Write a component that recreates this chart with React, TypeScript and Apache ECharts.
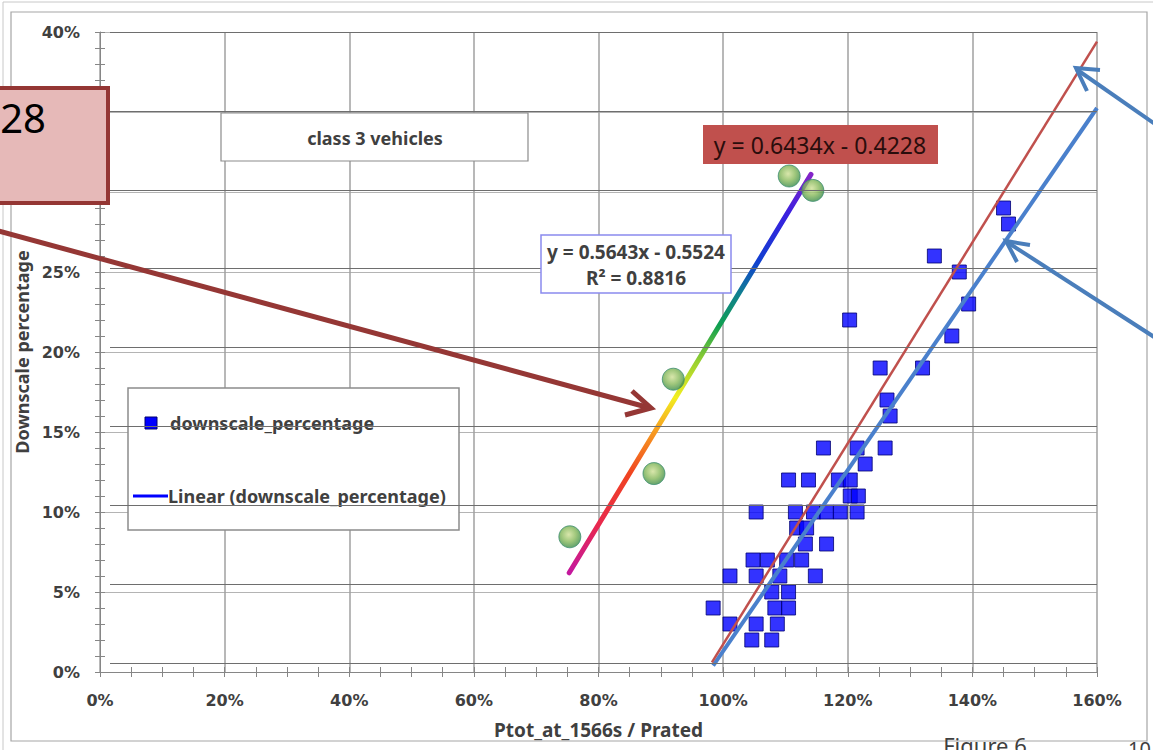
import React, { useEffect, useRef } from "react";
import * as echarts from "echarts";

// ---- data (percent units) ----
const downscalePoints: [number, number][] = [
  [98.4, 4], [101.1, 6], [101.1, 3], [104.6, 2], [105.3, 3], [105.3, 6], [104.8, 7],
  [107.1, 7], [105.3, 10], [107.8, 2], [108.7, 3], [108.3, 4], [110.5, 4], [107.8, 5],
  [110.5, 5], [109.1, 6], [110.2, 7], [112.6, 7], [114.8, 6], [113.2, 8], [111.8, 9],
  [113.4, 9], [111.6, 10], [114.5, 10], [116.6, 8], [116.6, 10], [118.8, 10], [121.5, 10],
  [110.5, 12], [113.7, 12], [118.5, 12], [120.4, 12], [120.4, 11], [121.7, 11], [122.8, 13],
  [116.1, 14], [121.5, 14], [126.0, 14], [126.8, 16], [126.3, 17], [125.2, 19], [132.0, 19],
  [120.3, 22], [133.9, 26], [137.9, 25], [139.4, 23], [136.7, 21], [145.0, 29], [145.8, 28],
];
const highlightPoints: [number, number][] = [
  [75.4, 8.45], [88.9, 12.4], [92.0, 18.3], [110.6, 31.0], [114.4, 30.1],
];
const linearTrend: [number, number][] = [[98.4, 0.4], [160, 35.25]];
const redTrend: [number, number][] = [[98.2, 0.6], [160, 39.4]];
const rainbowTrend: [number, number][] = [[75.3, 6.2], [114.1, 31.1]];

const xMin = 0, xMax = 160, xStep = 20;
const yMin = 0, yMax = 40, yStep = 5;

const seriesName = "downscale_percentage";
const trendName = "Linear (downscale_percentage)";
const xTitle = "Ptot_at_1566s / Prated";
const yTitle = "Downscale percentage";
const boxTitle = "class 3 vehicles";
const redEquation = "y = 0.6434x - 0.4228";
const rainbowEquation = ["y = 0.5643x - 0.5524", "R² = 0.8816"];

const FONT = "Noto Sans";
const TICK_FONT = "DejaVu Sans";
const LABEL = "#404040";

export default function App() {
  const ref = useRef<HTMLDivElement>(null);
  useEffect(() => {
    if (!ref.current) return;
    const chart = echarts.init(ref.current, undefined, { renderer: "svg" });
    const pctFmt = (v: number) => `${v}%`;
    const tickAxisCommon = {
      min: 0,
      splitLine: { show: false },
      axisLabel: { show: false },
      axisLine: { show: false },
    };
    const option: any = {
      animation: false,
      backgroundColor: "#ffffff",
      textStyle: { fontFamily: FONT },
      grid: [
        { left: 100, top: 32, width: 997, height: 640 },
        { left: 110, top: 32, width: 987, height: 631.3 },
      ],
      xAxis: [
        {
          type: "value", gridIndex: 0, min: xMin, max: xMax, interval: xStep,
          name: xTitle, nameLocation: "middle", nameGap: 48,
          nameTextStyle: { fontWeight: "bold", fontSize: 19, color: LABEL, fontFamily: FONT },
          axisLine: { lineStyle: { color: "#868686", width: 1 } },
          axisTick: { show: true, inside: false, length: 5, lineStyle: { color: "#868686" } },
          minorTick: { show: true, splitNumber: 4, length: 5, lineStyle: { color: "#868686" } },
          axisLabel: { formatter: pctFmt, fontWeight: "bold", fontSize: 16, color: LABEL, margin: 20, fontFamily: TICK_FONT },
          splitLine: { show: true, lineStyle: { color: "#a0a0a0", width: 1.5 } },
        },
        {
          type: "value", gridIndex: 0, position: "bottom", max: xMax, interval: xStep, ...tickAxisCommon,
          axisTick: { show: true, inside: true, length: 5, lineStyle: { color: "#868686" } },
          minorTick: { show: true, splitNumber: 4, length: 5, lineStyle: { color: "#868686" } },
        },
        { type: "value", gridIndex: 1, min: xMin, max: xMax, show: false },
      ],
      yAxis: [
        {
          type: "value", gridIndex: 0, min: yMin, max: yMax, interval: yStep,
          name: yTitle, nameLocation: "middle", nameGap: 66, nameRotate: 90,
          nameTextStyle: { fontWeight: "bold", fontSize: 18, color: LABEL, fontFamily: FONT },
          axisLine: { show: true, lineStyle: { color: "#868686", width: 1 } },
          axisTick: { show: true, inside: false, length: 5, lineStyle: { color: "#868686" } },
          minorTick: { show: true, splitNumber: 5, length: 5, lineStyle: { color: "#868686" } },
          axisLabel: { formatter: pctFmt, fontWeight: "bold", fontSize: 16, color: LABEL, margin: 20, fontFamily: TICK_FONT },
          splitLine: { show: true, lineStyle: { color: "#b4b4b4", width: 1.2 } },
        },
        {
          type: "value", gridIndex: 0, position: "left", max: yMax, interval: yStep, ...tickAxisCommon,
          axisTick: { show: true, inside: true, length: 5, lineStyle: { color: "#868686" } },
          minorTick: { show: true, splitNumber: 5, length: 5, lineStyle: { color: "#868686" } },
        },
        {
          type: "value", gridIndex: 1, min: yMin, max: yMax, interval: yStep, z: 20,
          axisLine: { show: false }, axisTick: { show: false }, axisLabel: { show: false },
          splitLine: { show: true, lineStyle: { color: "#6e6e6e", width: 1 } },
        },
      ],
      series: [
        {
          name: seriesName, type: "scatter", xAxisIndex: 0, yAxisIndex: 0,
          data: downscalePoints, symbol: "rect", symbolSize: 14, z: 3,
          itemStyle: { color: "#0000ff", borderColor: "#000070", borderWidth: 1 },
        },
        {
          name: trendName, type: "line", xAxisIndex: 0, yAxisIndex: 0, data: linearTrend,
          showSymbol: false, symbol: "none", z: 4,
          lineStyle: { color: "#4a80cc", width: 4 },
        },
        {
          name: "red", type: "line", xAxisIndex: 0, yAxisIndex: 0, data: redTrend,
          showSymbol: false, symbol: "none", z: 4,
          lineStyle: { color: "#c0504d", width: 2.5 },
        },
        {
          name: "rainbow", type: "line", xAxisIndex: 0, yAxisIndex: 0, data: rainbowTrend,
          showSymbol: false, symbol: "none", z: 4,
          lineStyle: {
            width: 5, cap: "round",
            color: new echarts.graphic.LinearGradient(0, 1, 0, 0, [
              { offset: 0, color: "#c4189e" },
              { offset: 0.12, color: "#e8284e" },
              { offset: 0.25, color: "#f04420" },
              { offset: 0.36, color: "#f7a020" },
              { offset: 0.44, color: "#f2ee20" },
              { offset: 0.53, color: "#98d030" },
              { offset: 0.62, color: "#10a050" },
              { offset: 0.7, color: "#108090" },
              { offset: 0.78, color: "#1040d0" },
              { offset: 0.9, color: "#3a20e0" },
              { offset: 1, color: "#8424c8" },
            ]),
          },
        },
        {
          name: "highlight", type: "scatter", xAxisIndex: 0, yAxisIndex: 0,
          data: highlightPoints, symbol: "circle", symbolSize: 22, z: 6,
          itemStyle: {
            color: new echarts.graphic.RadialGradient(0.45, 0.4, 0.6, [
              { offset: 0, color: "#cfe096" },
              { offset: 0.55, color: "#86b85a" },
              { offset: 1, color: "#3d8c48" },
            ]),
            borderColor: "#3f8f70", borderWidth: 1,
          },
        },
      ],
      graphic: [
        // frames
        { type: "rect", z: 1, silent: true, shape: { x: 3, y: 2, width: 1170, height: 770 }, style: { fill: "none", stroke: "#c8c8c8", lineWidth: 1 } },
        { type: "rect", z: 1, silent: true, shape: { x: 11, y: 12, width: 1136, height: 729 }, style: { fill: "none", stroke: "#a6a6a6", lineWidth: 1.2 } },
        // class box
        { type: "rect", z: 30, shape: { x: 221, y: 113, width: 307, height: 48 }, style: { fill: "#ffffff", stroke: "#8c8c8c", lineWidth: 1.2 } },
        { type: "text", z: 31, x: 375, y: 138, style: { text: boxTitle, fill: LABEL, font: `bold 18px "${FONT}"`, textAlign: "center", textVerticalAlign: "middle" } },
        // red equation box
        { type: "rect", z: 30, shape: { x: 703, y: 125, width: 235, height: 39 }, style: { fill: "#c0504d" } },
        { type: "text", z: 31, x: 820, y: 145, style: { text: redEquation, fill: "#2a0d0c", font: `23px "${FONT}"`, textAlign: "center", textVerticalAlign: "middle" } },
        // rainbow equation box
        { type: "rect", z: 30, shape: { x: 541, y: 235, width: 190, height: 58 }, style: { fill: "#ffffff", stroke: "#8a8aee", lineWidth: 1.5 } },
        { type: "text", z: 31, x: 636, y: 252, style: { text: rainbowEquation[0], fill: LABEL, font: `bold 19px "${FONT}"`, textAlign: "center", textVerticalAlign: "middle" } },
        { type: "text", z: 31, x: 636, y: 278, style: { text: rainbowEquation[1], fill: LABEL, font: `bold 19px "${FONT}"`, textAlign: "center", textVerticalAlign: "middle" } },
        // legend
        { type: "rect", z: 10, shape: { x: 128, y: 388, width: 331, height: 142 }, style: { fill: "#ffffff", stroke: "#8c8c8c", lineWidth: 1.5 } },
        { type: "rect", z: 11, shape: { x: 145, y: 417, width: 12, height: 12 }, style: { fill: "#0000ff", stroke: "#000070", lineWidth: 1 } },
        { type: "text", z: 11, x: 170, y: 423, style: { text: seriesName, fill: LABEL, font: `bold 18px "${FONT}"`, textVerticalAlign: "middle" } },
        { type: "line", z: 11, shape: { x1: 133, y1: 496, x2: 168, y2: 496 }, style: { stroke: "#0000ff", lineWidth: 3 } },
        { type: "text", z: 11, x: 168, y: 496, style: { text: trendName, fill: LABEL, font: `bold 18px "${FONT}"`, textVerticalAlign: "middle" } },
        // pink callout
        { type: "rect", z: 40, shape: { x: -10, y: 88, width: 118, height: 115 }, style: { fill: "#e6b9b8", stroke: "#943634", lineWidth: 4 } },
        { type: "text", z: 41, x: 46, y: 117, style: { text: "28", fill: "#000000", font: `40px "${FONT}"`, textAlign: "right", textVerticalAlign: "middle" } },
        // brown arrow
        { type: "line", z: 40, shape: { x1: -5, y1: 230, x2: 650, y2: 408 }, style: { stroke: "#953735", lineWidth: 5 } },
        { type: "polyline", z: 40, shape: { points: [[632, 391], [651, 408], [625, 415]] }, style: { stroke: "#953735", lineWidth: 5, fill: "none" } },
        // blue arrows
        { type: "line", z: 40, shape: { x1: 1165, y1: 131, x2: 1076, y2: 69 }, style: { stroke: "#4a7ebb", lineWidth: 4 } },
        { type: "polyline", z: 40, shape: { points: [[1100, 70], [1076, 68], [1087, 91]] }, style: { stroke: "#4a7ebb", lineWidth: 4, fill: "none" } },
        { type: "line", z: 40, shape: { x1: 1165, y1: 344, x2: 1007, y2: 242 }, style: { stroke: "#4a7ebb", lineWidth: 4 } },
        { type: "polyline", z: 40, shape: { points: [[1030, 245], [1006, 241], [1017, 262]] }, style: { stroke: "#4a7ebb", lineWidth: 4, fill: "none" } },
        // figure caption (cut off at page bottom, as in the reference)
        { type: "text", z: 5, x: 985, y: 734, style: { text: "Figure 6", fill: "#404040", font: `22px "${FONT}"`, textAlign: "center", textVerticalAlign: "top" } },
        { type: "text", z: 5, x: 1128, y: 738, style: { text: "10", fill: "#404040", font: `20px "${FONT}"`, textAlign: "left", textVerticalAlign: "top" } },
      ],
    };
    chart.setOption(option);
    return () => chart.dispose();
  }, []);
  return (
    <div
      ref={ref}
      style={{ position: "fixed", left: 0, top: 0, width: 1153, height: 750, background: "#ffffff" }}
    />
  );
}
